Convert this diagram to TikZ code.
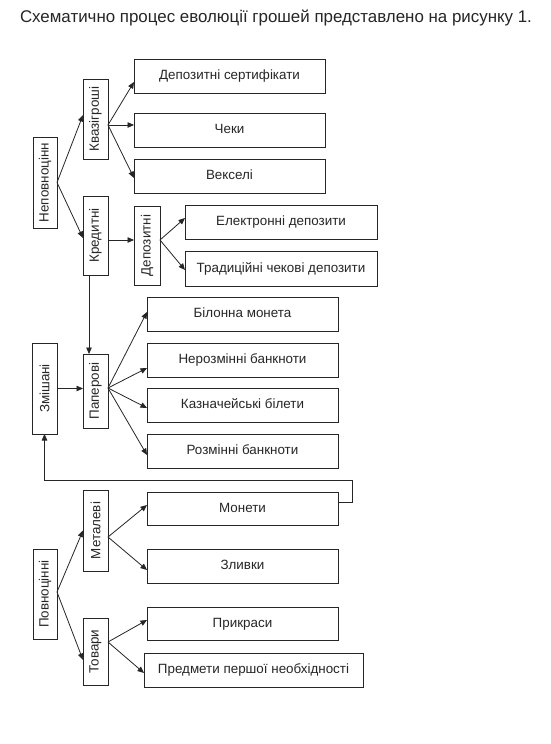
\documentclass[tikz,border=0pt]{standalone}
\usepackage{fontspec}
\setmainfont{Liberation Sans}
\usetikzlibrary{arrows.meta}
\begin{document}
\begin{tikzpicture}[x=1pt,y=-1pt,
  every node/.style={inner sep=0pt, outer sep=0pt},
  hbox/.style={draw=black!85, line width=0.9pt, fill=white, font=\fontsize{13.4}{15}\selectfont, text=black!85, text height=0.72em, text depth=0pt},
  vbox/.style={draw=black!85, line width=0.9pt, fill=white, font=\fontsize{13.4}{15}\selectfont, text=black!85},
  arr/.style={draw=black!85, line width=0.8pt, -{Triangle[length=6.5pt,width=5.5pt]}}]
\useasboundingbox (0,0) rectangle (550,744);
\fill[white] (0,0) rectangle (550,744);
\node[anchor=base west, font=\fontsize{16.9}{18}\selectfont, text=black!85] (title) at (20,22.5) {Схематично процес еволюції грошей представлено на рисунку 1.};
% Неповноцінні
\node[vbox, minimum width=24pt, minimum height=91pt] (nep) at (45,182.5) {\rotatebox{90}{Неповноцінн}};
\node[vbox, minimum width=25pt, minimum height=80pt] (kvaz) at (95.5,119) {\rotatebox{90}{Квазігроші}};
\node[hbox, minimum width=191pt, minimum height=34pt] (depcert) at (229.5,76) {Депозитні сертифікати};
\node[hbox, minimum width=191pt, minimum height=34pt] (cheky) at (229.5,130) {Чеки};
\node[hbox, minimum width=191pt, minimum height=34pt] (veks) at (229.5,176) {Векселі};
\node[vbox, minimum width=25pt, minimum height=79pt] (kred) at (95.5,235.5) {\rotatebox{90}{Кредитні}};
\node[vbox, minimum width=26pt, minimum height=79pt] (depv) at (147,245.5) {\rotatebox{90}{Депозитні}};
\node[hbox, minimum width=192pt, minimum height=34pt] (elek) at (281,222) {Електронні депозити};
\node[hbox, minimum width=192pt, minimum height=35pt] (trad) at (281,268.5) {Традиційні чекові депозити};
% Змішані
\node[vbox, minimum width=25pt, minimum height=91pt] (zmish) at (44.5,388.5) {\rotatebox{90}{Змішані}};
\node[vbox, minimum width=25pt, minimum height=74pt] (paper) at (95.5,391) {\rotatebox{90}{Паперові}};
\node[hbox, minimum width=191pt, minimum height=34pt] (bilon) at (242.5,314) {Білонна монета};
\node[hbox, minimum width=191pt, minimum height=34pt] (neroz) at (242.5,360) {Нерозмінні банкноти};
\node[hbox, minimum width=191pt, minimum height=34pt] (kazn) at (242.5,405) {Казначейські білети};
\node[hbox, minimum width=191pt, minimum height=34pt] (rozm) at (242.5,451) {Розмінні банкноти};
% Повноцінні
\node[vbox, minimum width=24pt, minimum height=90pt] (povn) at (45,594) {\rotatebox{90}{Повноцінні}};
\node[vbox, minimum width=25pt, minimum height=81pt] (metal) at (95.5,530.5) {\rotatebox{90}{Металеві}};
\node[vbox, minimum width=25pt, minimum height=67pt] (tovar) at (95.5,651.5) {\rotatebox{90}{Товари}};
\node[hbox, minimum width=191pt, minimum height=33pt] (monety) at (242.5,508.5) {Монети};
\node[hbox, minimum width=191pt, minimum height=34pt] (zlyv) at (242.5,566) {Зливки};
\node[hbox, minimum width=191pt, minimum height=33pt] (prykr) at (242.5,623.5) {Прикраси};
\node[hbox, minimum width=219pt, minimum height=34pt] (predm) at (253.5,670) {Предмети першої необхідності};
% connectors
\draw[arr] (nep.east) -- ([yshift=4pt]kvaz.west);
\draw[arr] (nep.east) -- ([yshift=-2.5pt]kred.west);
\draw[arr] ([yshift=-6pt]kvaz.east) -- ([yshift=-6pt]depcert.west);
\draw[arr] ([yshift=-6pt]kvaz.east) -- ([yshift=5pt]cheky.west);
\draw[arr] ([yshift=-6pt]kvaz.east) -- ([yshift=-2pt]veks.west);
\draw[arr] ([yshift=-4.5pt]kred.east) -- ([yshift=5.5pt]depv.west);
\draw[arr] ([yshift=5.5pt]depv.east) -- ([yshift=4pt]elek.west);
\draw[arr] ([yshift=5.5pt]depv.east) -- ([yshift=-1.5pt]trad.west);
\draw[arr] ([xshift=-6.5pt]kred.south) -- ([xshift=-6.5pt]paper.north);
\draw[arr] (zmish.east) -- (zmish.east -| paper.west);
\draw[arr] ([yshift=3pt]paper.east) -- ([yshift=2pt]bilon.west);
\draw[arr] ([yshift=3pt]paper.east) -- ([yshift=-8pt]neroz.west);
\draw[arr] ([yshift=3pt]paper.east) -- ([yshift=-3pt]kazn.west);
\draw[arr] ([yshift=3pt]paper.east) -- ([yshift=-4pt]rozm.west);
\draw[arr] ([yshift=2pt]povn.east) -- (metal.west);
\draw[arr] ([yshift=2pt]povn.east) -- ([yshift=-8.5pt]tovar.west);
\draw[arr] ([yshift=-6.5pt]metal.east) -- ([yshift=3.5pt]monety.west);
\draw[arr] ([yshift=-6.5pt]metal.east) -- ([yshift=-4pt]zlyv.west);
\draw[arr] ([yshift=9.5pt]tovar.east) -- ([yshift=3.5pt]prykr.west);
\draw[arr] ([yshift=9.5pt]tovar.east) -- ([yshift=-3pt]predm.west);
\coordinate (lp) at (352,480);
\draw[arr] ([yshift=6.5pt]monety.east) -| (lp) -| (zmish.south);
\end{tikzpicture}
\end{document}
